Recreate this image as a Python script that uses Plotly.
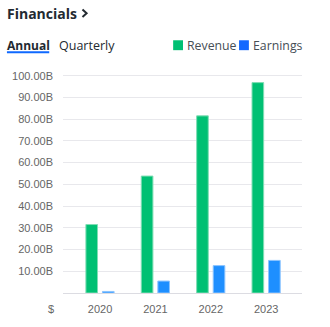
import plotly.graph_objects as go

# Annual financials (USD, billions)
years = ["2020", "2021", "2022", "2023"]
revenue = [31.5, 53.8, 81.5, 96.8]
earnings = [0.72, 5.5, 12.6, 15.0]

tick_vals = [10, 20, 30, 40, 50, 60, 70, 80, 90, 100]
tick_text = ["10.00B", "20.00B", "30.00B", "40.00B", "50.00B",
             "60.00B", "70.00B", "80.00B", "90.00B", "100.00B"]

GREEN = "#00C073"
BLUE = "#1E8FFF"
LEGEND_BLUE = "#1468FF"
DARK = "#232A31"

W, H = 330, 327
L, R, T, B = 59, 302, 70, 295  # plot area edges in pixels
PW, PH = R - L, B - T


def px(x):
    return (x - L) / PW


def py(y):
    return (B - y) / PH


# category centre at 96.7 px, 56.3 px between categories
cat_w = 56.3
x0 = -(96.7 - L) / cat_w
x1 = x0 + PW / cat_w

fig = go.Figure()
fig.add_trace(go.Bar(
    x=years, y=revenue, name="Revenue",
    marker=dict(color=GREEN, line=dict(color="#7FDDB4", width=1)),
    width=0.21, offset=-0.256, hoverinfo="skip",
))
fig.add_trace(go.Bar(
    x=years, y=earnings, name="Earnings",
    marker=dict(color=BLUE, line=dict(color="#8CC4FF", width=1)),
    width=0.21, offset=0.043, hoverinfo="skip",
))

annotations = [
    dict(text="<b>Financials</b>", x=px(0), y=py(13), xanchor="left", yanchor="middle",
         font=dict(family="Open Sans", size=14, color=DARK)),
    dict(text="<b>Annual</b>", x=px(0), y=py(45), xanchor="left", yanchor="middle",
         font=dict(family="Open Sans", size=12, color=DARK)),
    dict(text="Quarterly", x=px(53), y=py(45), xanchor="left", yanchor="middle",
         font=dict(family="Open Sans", size=12.5, color=DARK)),
    dict(text="Revenue", x=px(183), y=py(45), xanchor="left", yanchor="middle",
         font=dict(family="Open Sans", size=12.3, color="#464E56")),
    dict(text="Earnings", x=px(250), y=py(45), xanchor="left", yanchor="middle",
         font=dict(family="Open Sans", size=12.3, color="#464E56")),
    dict(text="$", x=px(47), y=py(311), xanchor="center", yanchor="middle",
         font=dict(family="Liberation Sans", size=11, color="#666666")),
]
for a in annotations:
    a.update(xref="paper", yref="paper", showarrow=False)

shapes = [
    # chevron after the heading
    dict(type="path",
         path=f"M {px(78.8)} {py(9)} L {px(83)} {py(12.8)} L {px(78.8)} {py(16.6)}",
         line=dict(color=DARK, width=2)),
    # underline of the selected tab
    dict(type="rect", x0=px(2), x1=px(45), y0=py(51), y1=py(53),
         fillcolor="#0F69FF", line=dict(width=0)),
    # legend swatches
    dict(type="rect", x0=px(171), x1=px(181), y0=py(40), y1=py(50),
         fillcolor=GREEN, line=dict(width=0)),
    dict(type="rect", x0=px(238), x1=px(248), y0=py(40), y1=py(50),
         fillcolor=LEGEND_BLUE, line=dict(width=0)),
]
for s in shapes:
    s.update(xref="paper", yref="paper")

fig.update_layout(
    width=W, height=H,
    margin=dict(l=L, r=W - R, t=T, b=H - B, pad=0),
    paper_bgcolor="white", plot_bgcolor="white",
    barmode="overlay", showlegend=False,
    annotations=annotations, shapes=shapes,
    font=dict(family="Liberation Sans", size=11, color="#666666"),
)
fig.update_xaxes(
    type="category", range=[x0, x1], showgrid=False,
    showline=False, zeroline=False, ticks="", ticklabelstandoff=8,
    tickfont=dict(family="Liberation Sans", size=11, color="#666666"),
    fixedrange=True,
)
fig.update_yaxes(
    range=[0, 102.6], tickvals=tick_vals, ticktext=tick_text,
    showgrid=True, gridcolor="#E8E8EC", gridwidth=1,
    zeroline=True, zerolinecolor="#DCDCE2", zerolinewidth=1,
    showline=False, ticks="", ticklabelstandoff=9,
    tickfont=dict(family="Liberation Sans", size=11, color="#666666"),
    fixedrange=True,
)

fig.write_html("out.html", config={"displayModeBar": False})
